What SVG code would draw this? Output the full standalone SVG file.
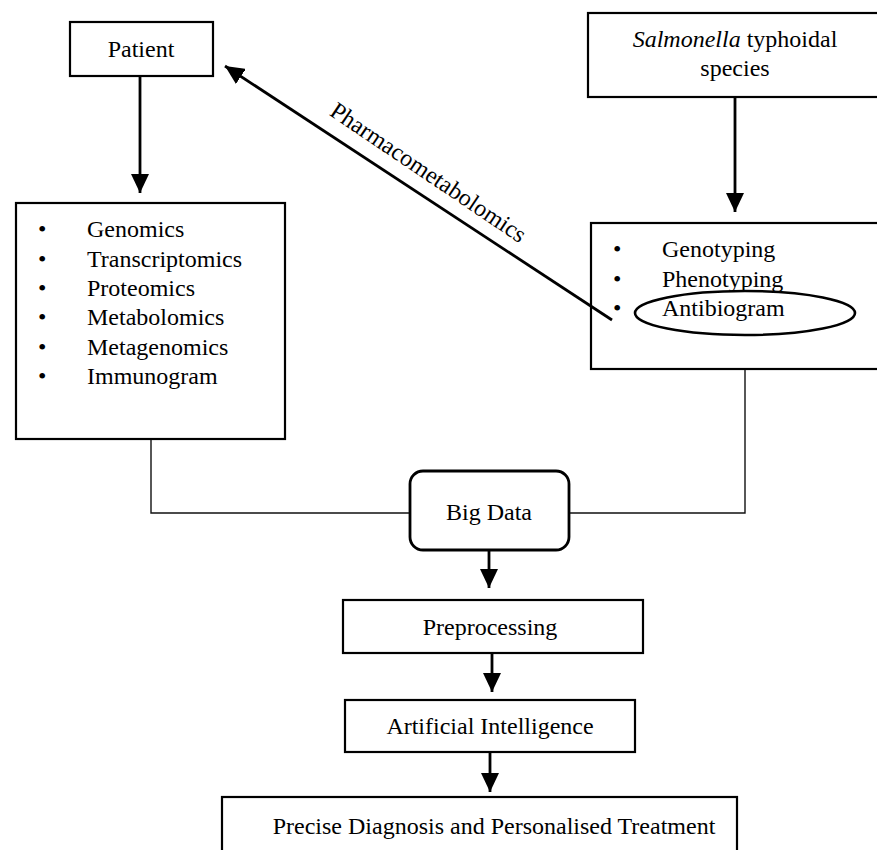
<svg xmlns="http://www.w3.org/2000/svg" width="877" height="850" viewBox="0 0 877 850">
<defs>
<style>
text{font-family:"Liberation Serif","Times New Roman",serif;font-size:24px;fill:#000}
.c{text-anchor:middle}
.box{fill:#fff;stroke:#000;stroke-width:2.2}
.arr{fill:none;stroke:#000;stroke-width:2.8}
.thin{fill:none;stroke:#111;stroke-width:1.4}
</style>
<marker id="ah" markerUnits="userSpaceOnUse" markerWidth="20" markerHeight="18" refX="19" refY="9" orient="auto">
<path d="M0,0 L19,9 L0,18 z" fill="#000"/>
</marker>
</defs>
<rect width="877" height="850" fill="#fff"/>

<g id="patient">
<rect class="box" x="70" y="22" width="143" height="54"/>
<text class="c" x="141" y="57">Patient</text>
</g>

<g id="omics">
<rect class="box" x="16" y="203" width="269" height="236"/>
<text x="38" y="237">•</text><text x="87" y="237">Genomics</text>
<text x="38" y="267">•</text><text x="87" y="267">Transcriptomics</text>
<text x="38" y="296">•</text><text x="87" y="296">Proteomics</text>
<text x="38" y="325">•</text><text x="87" y="325">Metabolomics</text>
<text x="38" y="355">•</text><text x="87" y="355">Metagenomics</text>
<text x="38" y="384">•</text><text x="87" y="384">Immunogram</text>
</g>

<g id="salmonella">
<rect class="box" x="588" y="13" width="292" height="84"/>
<text class="c" x="735" y="47"><tspan font-style="italic">Salmonella</tspan> typhoidal</text>
<text class="c" x="735" y="76">species</text>
</g>

<g id="typing">
<rect class="box" x="591" y="223" width="290" height="146"/>
<text x="613" y="257">•</text><text x="662" y="257">Genotyping</text>
<text x="613" y="287">•</text><text x="662" y="287">Phenotyping</text>
<text x="613" y="316">•</text><text x="662" y="316">Antibiogram</text>
<ellipse cx="745" cy="313" rx="110" ry="22" fill="none" stroke="#000" stroke-width="2.6"/>
</g>

<g id="bigdata">
<rect class="box" x="410" y="471" width="159" height="79" rx="13" ry="13" style="stroke-width:2.8"/>
<text class="c" x="489" y="520">Big Data</text>
</g>

<g id="preprocessing">
<rect class="box" x="343" y="600" width="300" height="53"/>
<text class="c" x="490" y="635">Preprocessing</text>
</g>

<g id="ai">
<rect class="box" x="345" y="700" width="290" height="52"/>
<text class="c" x="490" y="734">Artificial Intelligence</text>
</g>

<g id="diagnosis">
<rect class="box" x="222" y="797" width="515" height="70"/>
<text class="c" x="494" y="834">Precise Diagnosis and Personalised Treatment</text>
</g>

<g id="connectors">
<line class="arr" x1="140" y1="77" x2="140" y2="193" marker-end="url(#ah)"/>
<line class="arr" x1="735" y1="98" x2="735" y2="212" marker-end="url(#ah)"/>
<line class="arr" x1="612" y1="320" x2="225" y2="66" marker-end="url(#ah)"/>
<polyline class="thin" points="151,440 151,513 409,513"/>
<polyline class="thin" points="745,370 745,513 570,513"/>
<line class="arr" x1="489" y1="551" x2="489" y2="588" marker-end="url(#ah)"/>
<line class="arr" x1="492" y1="654" x2="492" y2="692" marker-end="url(#ah)"/>
<line class="arr" x1="490" y1="753" x2="490" y2="792" marker-end="url(#ah)"/>
<text transform="translate(424,179) rotate(34)" class="c">Pharmacometabolomics</text>
</g>
</svg>
